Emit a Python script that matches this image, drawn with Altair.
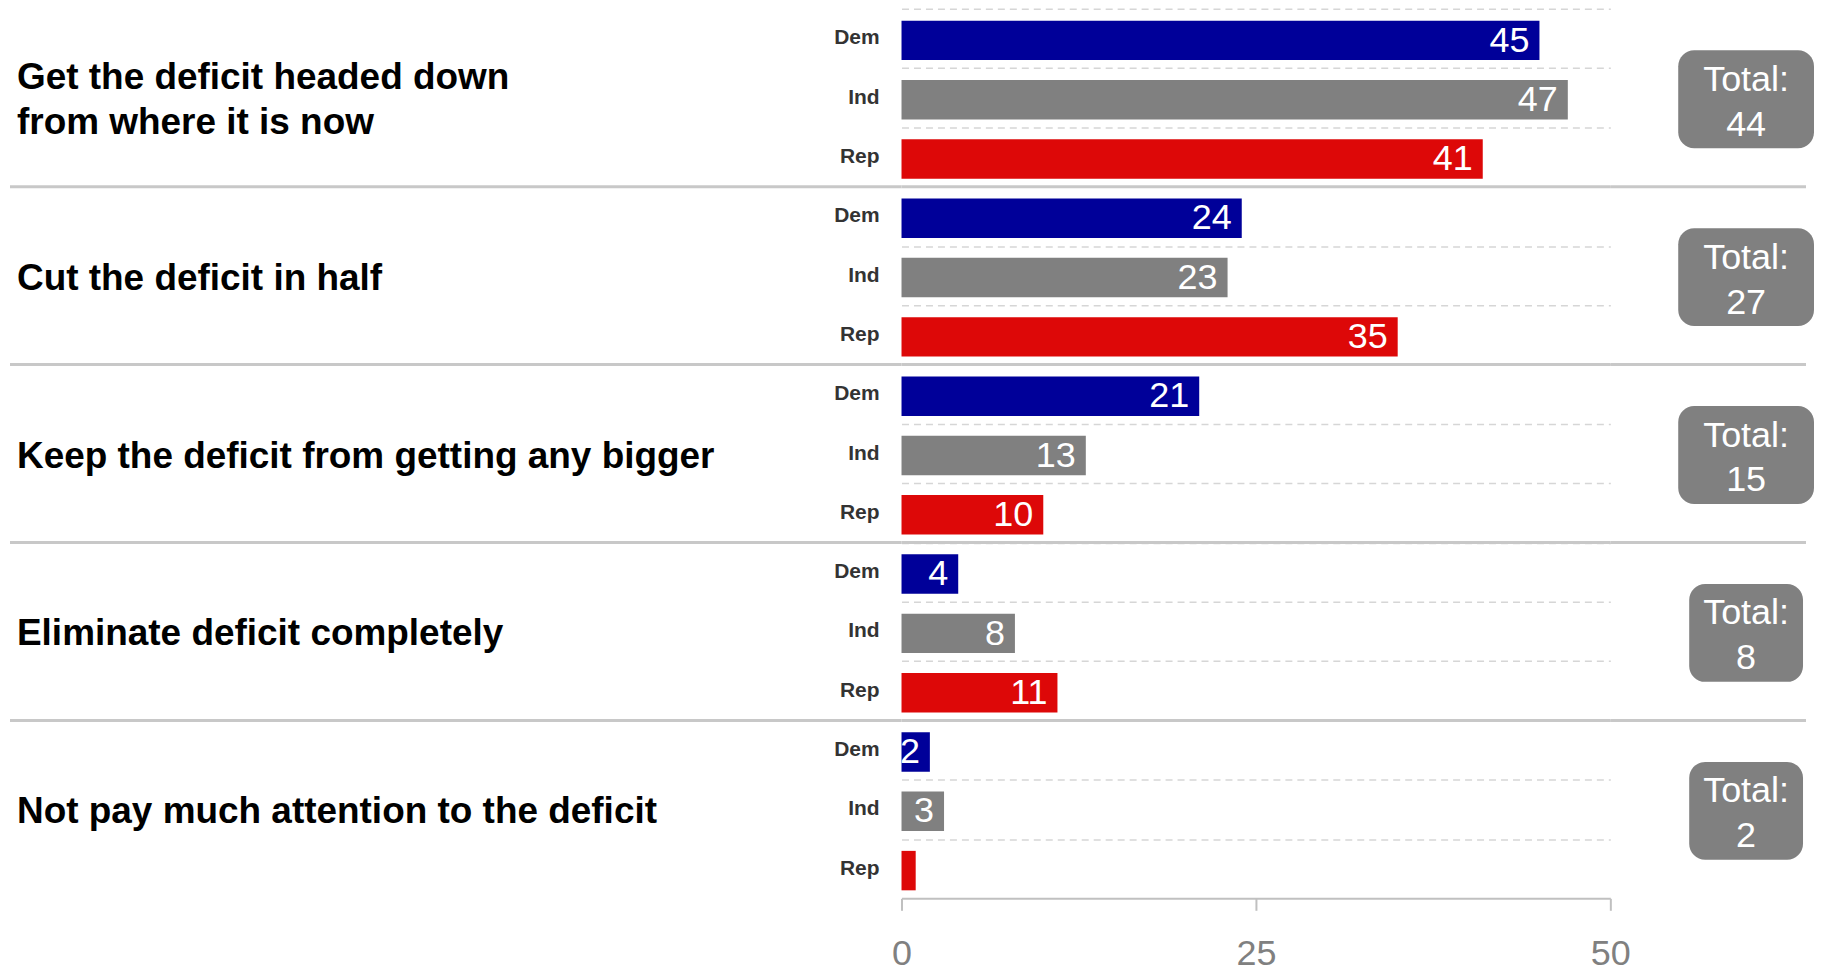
import altair as alt
import pandas as pd

FONT = "Liberation Sans, Arial, sans-serif"

groups = [
    "Get the deficit headed down\nfrom where it is now",
    "Cut the deficit in half",
    "Keep the deficit from getting any bigger",
    "Eliminate deficit completely",
    "Not pay much attention to the deficit",
]
parties = ["Dem", "Ind", "Rep"]
dem_vals = [45, 24, 21, 4, 2]
ind_vals = [47, 23, 13, 8, 3]
rep_vals = [41, 35, 10, 11, 1]
totals = [44, 27, 15, 8, 2]
x_ticks = [0, 25, 50]
party_colors = ["#000099", "#808080", "#dd0808"]

rows = []
for g, name in enumerate(groups):
    for p, (party, vals) in enumerate(zip(parties, [dem_vals, ind_vals, rep_vals])):
        rows.append({"group": name, "gidx": g, "party": party, "row": g * 3 + p, "value": vals[g]})
bars_df = pd.DataFrame(rows)
groups_df = pd.DataFrame({"group": groups, "gidx": list(range(len(groups))), "total": totals})

H = 891
LW, MW, RW = 893, 710, 203
ysc = alt.Scale(domain=[0, 15], reverse=True, nice=False, zero=False)
SEP_COLOR = "#c8c8c8"
ROW_PX = H / 15.0
TITLE_LH = 45

# ---------------- left panel: group titles + party labels ----------------
sep_base = alt.Chart(groups_df).transform_filter("datum.gidx > 0").transform_calculate(sy="datum.gidx * 3")

left_titles = alt.Chart(groups_df).transform_calculate(
    yc=f"datum.gidx * 3 + 1.5 - (length(split(datum.group, '\\n')) - 1) * {TITLE_LH / 2 / ROW_PX}"
).mark_text(
    align="left", baseline="middle", fontSize=37, fontWeight="bold", lineBreak="\n",
    lineHeight=TITLE_LH, color="#000000", font=FONT, dy=3
).encode(x=alt.value(7), y=alt.Y("yc:Q", scale=ysc, axis=None), text="group:N")

left_party = alt.Chart(bars_df).transform_calculate(ym="datum.row + 0.5").mark_text(
    align="right", baseline="middle", fontSize=21, fontWeight="bold", color="#333333", font=FONT
).encode(x=alt.value(LW - 22), y=alt.Y("ym:Q", scale=ysc, axis=None), text="party:N")

left_sep = sep_base.mark_rule(color=SEP_COLOR, strokeWidth=3).encode(
    y=alt.Y("sy:Q", scale=ysc, axis=None), x=alt.value(0), x2=alt.value(LW)
)

left = alt.layer(left_sep, left_titles, left_party).properties(width=LW, height=H)

# ---------------- middle panel: bars ----------------
bar_base = alt.Chart(bars_df).transform_calculate(
    y0="datum.row + 0.2", y1="datum.row + 0.865", ym="datum.row + 0.535"
)
bars = bar_base.mark_rect().encode(
    x=alt.X(
        "value:Q",
        scale=alt.Scale(domain=[0, 50], nice=False),
        axis=alt.Axis(
            values=x_ticks, grid=False, title=None, domainColor="#c0c0c0", domainWidth=2,
            tickColor="#c0c0c0", tickWidth=2, tickSize=12, labelFontSize=36, labelColor="#808080",
            labelPadding=26, labelFont=FONT, labelFlush=False,
        ),
    ),
    x2=alt.datum(0),
    y=alt.Y(
        "y0:Q", scale=ysc,
        axis=alt.Axis(
            values=list(range(15)), grid=True, gridDash=[7, 5], gridColor="#d6d6d6", gridWidth=1.5,
            labels=False, ticks=False, domain=False, title=None,
        ),
    ),
    y2="y1:Q",
    color=alt.Color("party:N", scale=alt.Scale(domain=parties, range=party_colors), legend=None),
)
bar_labels = bar_base.transform_filter("datum.value >= 2").mark_text(
    align="right", baseline="middle", dx=-10, fontSize=36, color="white", font=FONT
).encode(x=alt.X("value:Q"), y=alt.Y("ym:Q"), text="value:Q")

mid_sep = sep_base.mark_rule(color=SEP_COLOR, strokeWidth=3).encode(
    y=alt.Y("sy:Q"), x=alt.value(0), x2=alt.value(MW)
)
middle = alt.layer(bars, bar_labels, mid_sep).properties(width=MW, height=H)

# ---------------- right panel: total boxes ----------------
box_base = alt.Chart(groups_df).transform_calculate(
    yc="datum.gidx * 3 + 1.5",
    yt="datum.gidx * 3 + 1.5 - 0.8",
    yb="datum.gidx * 3 + 1.5 + 0.85",
    hw="datum.total >= 10 ? 68 : 57",
    bc="136",
    bx0="136 - datum.hw",
    bx1="136 + datum.hw",
    head="'Total:'",
)
xr = alt.Scale(domain=[0, RW], nice=False, zero=True)
boxes = box_base.mark_rect(color="#808080", cornerRadius=16).encode(
    x=alt.X("bx0:Q", scale=xr, axis=None), x2="bx1:Q",
    y=alt.Y("yt:Q", scale=ysc, axis=None), y2="yb:Q",
)
box_head = box_base.mark_text(
    align="center", baseline="middle", fontSize=36, dy=-18, color="white", font=FONT
).encode(x=alt.X("bc:Q", scale=xr, axis=None), y=alt.Y("yc:Q", scale=ysc, axis=None), text="head:N")
box_num = box_base.mark_text(
    align="center", baseline="middle", fontSize=36, dy=27, color="white", font=FONT
).encode(x=alt.X("bc:Q", scale=xr, axis=None), y=alt.Y("yc:Q", scale=ysc, axis=None), text="total:Q")

right_sep = sep_base.mark_rule(color=SEP_COLOR, strokeWidth=3).encode(
    y=alt.Y("sy:Q", scale=ysc, axis=None), x=alt.value(0), x2=alt.value(196)
)
right = alt.layer(right_sep, boxes, box_head, box_num).properties(width=RW, height=H)

chart = (
    alt.hconcat(left, middle, right, spacing=0, bounds="flush")
    .properties(padding=0)
    .configure_view(stroke=None)
    .configure_text(font=FONT)
)

chart.save("out.html", embed_options={"renderer": "svg", "actions": False})
